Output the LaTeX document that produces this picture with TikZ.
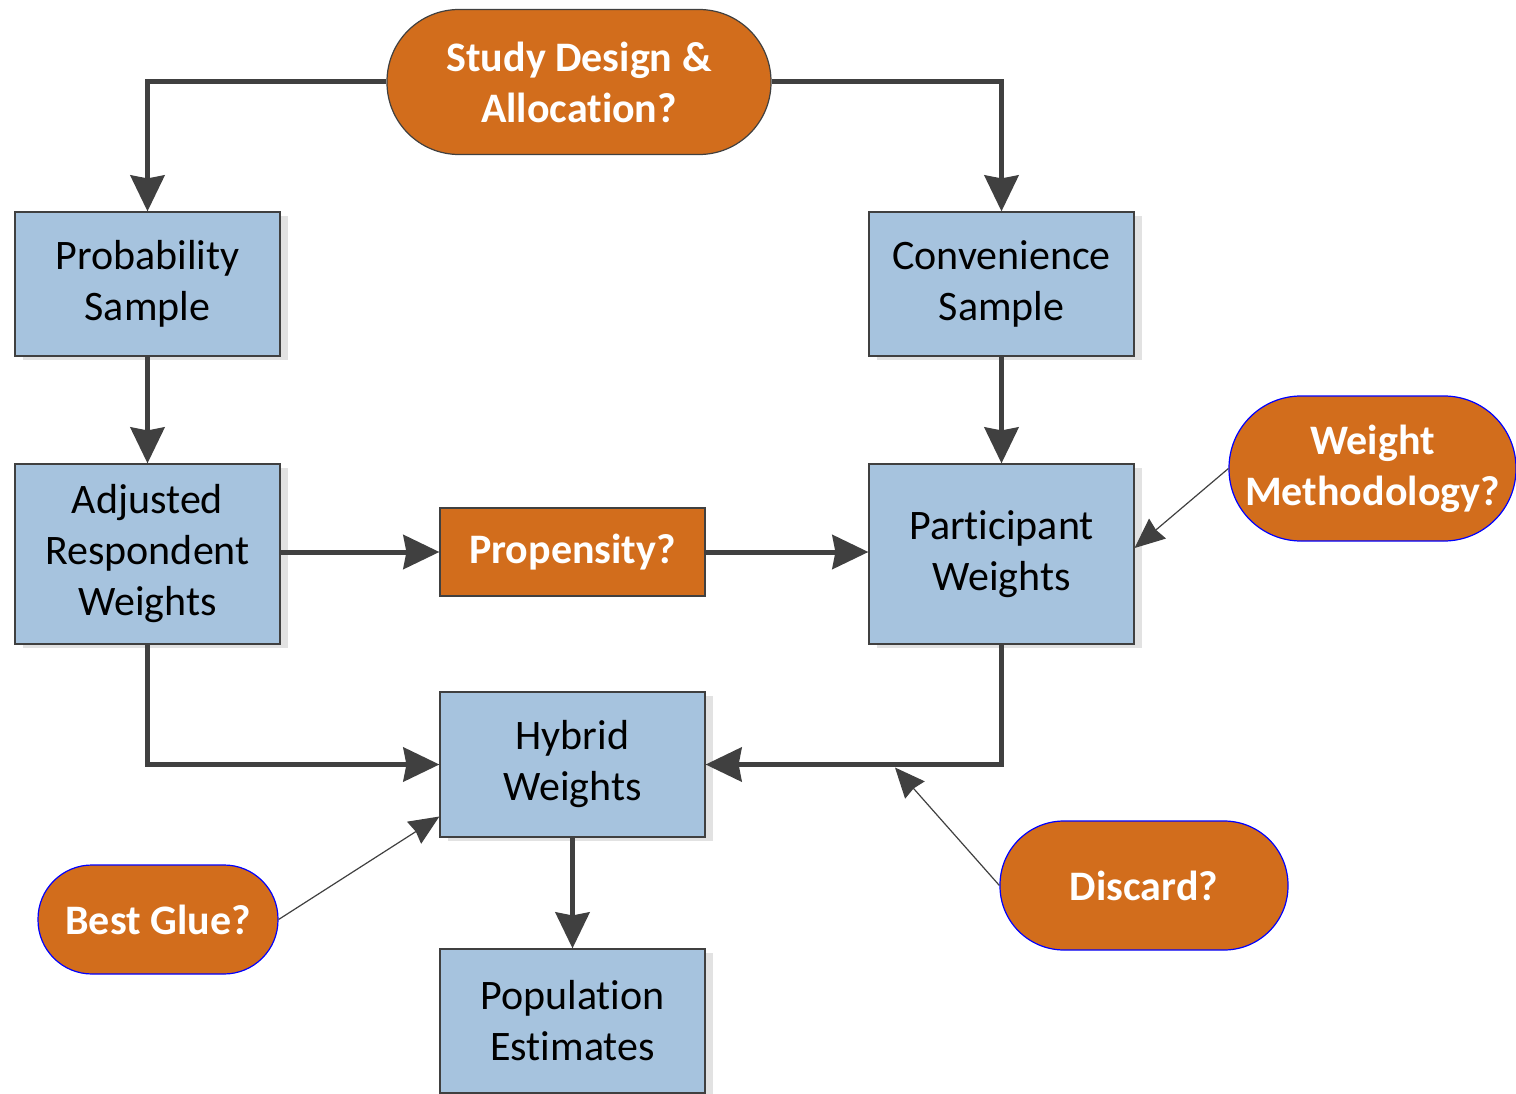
\documentclass[tikz,border=0pt]{standalone}
\usepackage{fontspec}
\setmainfont[RawFeature={-liga;-clig;-calt}]{Carlito}
\usetikzlibrary{arrows.meta,shadows}
\definecolor{boxblue}{HTML}{A6C3DE}
\definecolor{orng}{HTML}{D26D1C}
\definecolor{lin}{HTML}{404040}
\definecolor{shd}{HTML}{E2E2E2}
\begin{document}
\begin{tikzpicture}[x=1pt,y=-1pt,
  txt/.style={font=\fontsize{42}{51}\selectfont},
  bx/.style={txt, draw=lin, line width=1.2pt, fill=boxblue, minimum width=265pt, minimum height=#1, inner sep=0pt, align=center,
    drop shadow={shadow xshift=8pt, shadow yshift=-4pt, fill=shd, opacity=1}},
  bx/.default=144pt,
  term/.style={txt, font=\fontsize{42}{51}\selectfont\bfseries, text=white, draw=blue, line width=1.2pt, fill=orng, inner sep=0pt, align=center, rounded corners=#1},
  flow/.style={draw=lin, line width=5pt, -{Stealth[length=36pt,width=34pt,inset=3pt]}},
  note/.style={draw=lin, line width=1.2pt, -{Stealth[length=30pt,width=26pt,inset=2pt]}}
]
\useasboundingbox (0,0) rectangle (1516,1094);
% nodes
\node[term=72pt, draw=lin, minimum width=384pt, minimum height=145pt] (sd) at (579,82) {Study Design \&\\Allocation?};
\node[bx] (ps) at (147.5,284) {Probability\\Sample};
\node[bx] (cs) at (1001.5,284) {Convenience\\Sample};
\node[bx=180pt] (adj) at (147.5,554) {Adjusted\\Respondent\\Weights};
\node[bx=180pt] (part) at (1001.5,554) {Participant\\Weights};
\node[txt, font=\fontsize{42}{51}\selectfont\bfseries, text=white, fill=orng, draw=lin, line width=1.2pt, minimum width=265pt, minimum height=88pt, inner sep=0pt] (prop) at (572.5,552) {Propensity?};
\node[bx=145pt] (hyb) at (572.5,764.5) {Hybrid\\Weights};
\node[bx] (pop) at (572.5,1021) {Population\\Estimates};
\node[term=72pt, minimum width=287pt, minimum height=145pt] (wm) at (1372.5,468.5) {Weight\\Methodology?};
\node[term=64pt, minimum width=288pt, minimum height=129pt] (dis) at (1144,885.5) {Discard?};
\node[term=54pt, minimum width=240pt, minimum height=109pt] (bg) at (158,919.5) {Best Glue?};
\coordinate (dj) at (895,767.5);
% connectors
\draw[flow] (sd.west) -| (ps.north);
\draw[flow] (sd.east) -| (cs.north);
\draw[flow] (ps.south) -- (adj.north);
\draw[flow] (cs.south) -- (part.north);
\draw[flow] (adj.east |- prop.west) -- (prop.west);
\draw[flow] (prop.east) -- (part.west |- prop.east);
\draw[flow] (adj.south) |- (hyb.west);
\draw[flow] (part.south) |- (hyb.east);
\draw[flow] (hyb.south) -- (pop.north);
\draw[note] (wm.west) -- ([yshift=6pt]part.east);
\draw[note] (dis.west) -- (dj);
\draw[note] (bg.east) -- ([yshift=-52pt]hyb.west);
\end{tikzpicture}
\end{document}
